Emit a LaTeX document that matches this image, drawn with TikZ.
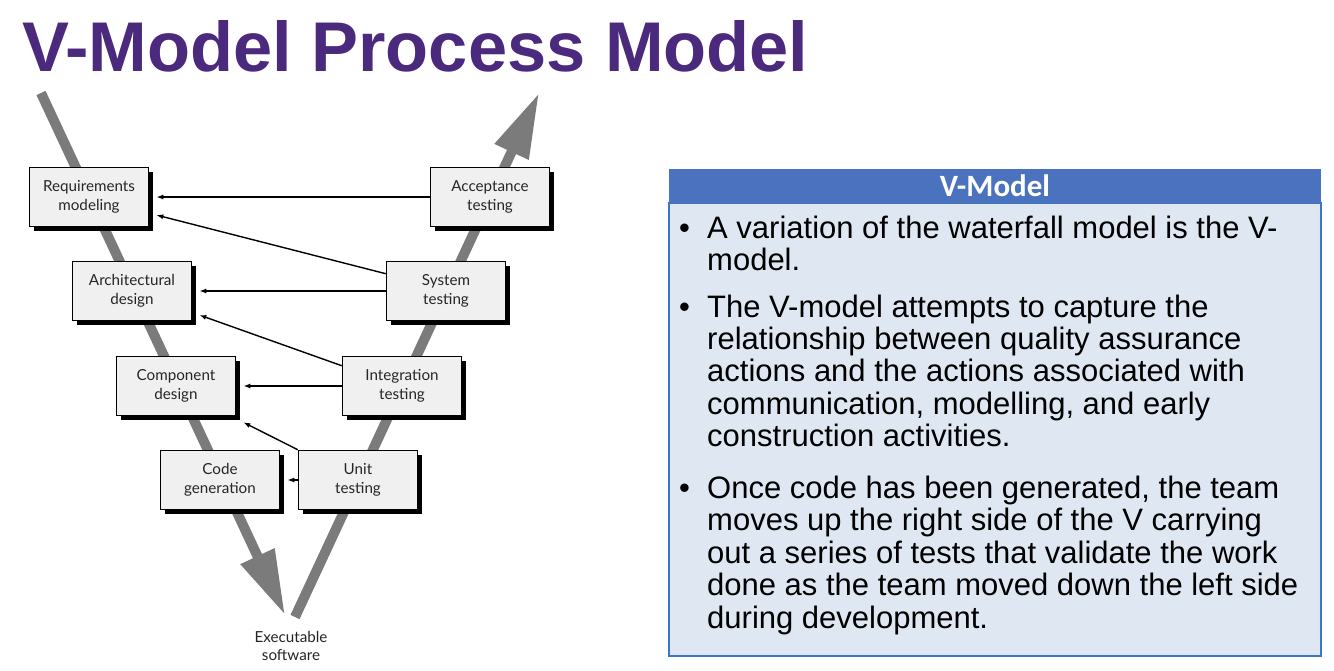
\documentclass[tikz,border=0pt]{standalone}
\usepackage{fontspec}
\setmainfont{Liberation Sans}
\newfontfamily\boxfont{Lato}
\newfontfamily\hdrfont{Carlito}
\usetikzlibrary{arrows.meta,shadows}
\definecolor{titlepurple}{HTML}{4B2A7E}
\definecolor{barGray}{HTML}{7B7B7B}
\definecolor{boxFill}{HTML}{F0F0F0}
\definecolor{hdrBlue}{HTML}{4A72BE}
\definecolor{panelFill}{HTML}{DFE7F2}
\definecolor{panelBorder}{HTML}{3C74C6}
\tikzset{
  vbar/.style={draw=barGray, line width=10pt},
  stagebox/.style={draw=black, line width=1.6pt, fill=boxFill, minimum width=119pt, minimum height=59pt,
    inner sep=0pt, align=center, text=black!85,
    font=\boxfont\fontsize{15.2}{19}\selectfont,
    drop shadow={shadow xshift=4.5pt, shadow yshift=-4.5pt, fill=black, opacity=1}},
  conn/.style={draw=black, line width=1.4pt, -{Latex[length=7pt,width=5pt]}},
  bodyline/.style={anchor=base west, inner sep=0pt, font=\fontsize{31}{33}\selectfont, text=black},
}
\begin{document}
\begin{tikzpicture}[x=1pt,y=-1pt]
\useasboundingbox[fill=white] (0,0) rectangle (1334,670);
% title
\node[anchor=base west, inner sep=0pt, text=titlepurple, font=\bfseries\fontsize{70.4}{78}\selectfont] (title) at (22,71) {V-Model Process Model};
% V bars
\coordinate (ltop) at (41,93);
\coordinate (ltip) at (285,615);
\coordinate (rbot) at (295,617);
\coordinate (rtip) at (539,93);
\draw[vbar, -{Triangle[length=65pt,width=35pt]}] (ltop) -- (ltip);
\draw[vbar, -{Triangle[length=65pt,width=35pt]}] (rbot) -- (rtip);
% boxes
\node[stagebox] (req)   at (89,197)  {Requirements\\modeling};
\node[stagebox] (acc)   at (490,197) {Acceptance\\testing};
\node[stagebox] (arch)  at (132,291) {Architectural\\design};
\node[stagebox] (sys)   at (446,291) {System\\testing};
\node[stagebox] (comp)  at (176,386) {Component\\design};
\node[stagebox] (integ) at (402,386) {Integration\\testing};
\node[stagebox] (code)  at (220,480) {Code\\generation};
\node[stagebox] (unit)  at (358,480) {Unit\\testing};
\node[align=center, inner sep=0pt, text=black!85, font=\boxfont\fontsize{15.2}{18}\selectfont, anchor=north] (exe) at (291,631) {Executable\\software};
% connectors
\draw[conn] (acc.west) -- ([xshift=7pt]req.east);
\draw[conn] ([yshift=-13pt]sys.north west) -- ([xshift=7pt,yshift=-18pt]req.east);
\draw[conn] (sys.west) -- ([xshift=7pt]arch.east);
\draw[conn] ([yshift=-10pt]integ.north west) -- ([xshift=7pt,yshift=-24pt]arch.east);
\draw[conn] (integ.west) -- ([xshift=7pt]comp.east);
\draw[conn] (unit.north west) -- ([xshift=7pt,yshift=-6pt]comp.south east);
\draw[conn] (unit.west) -- ([xshift=7pt]code.east);
% right panel
\node[draw=panelBorder, line width=2.5pt, fill=panelFill, minimum width=652pt, minimum height=453pt, inner sep=0pt] (panel) at (995,429.5) {};
\node[fill=hdrBlue, minimum width=652pt, minimum height=34pt, inner sep=0pt] (hdr) at (995,186) {};
\node[text=white, inner sep=0pt, font=\hdrfont\bfseries\fontsize{31}{34}\selectfont] (hdrtext) at (hdr.center) {V-Model};
\foreach \i/\y in {1/238,2/317,3/498}
  \node[bodyline] (b\i) at (679,\y) {\textbullet};
\foreach \i/\y/\t in {
  1/238/{A variation of the waterfall model is the V-},
  2/270/{model.},
  3/317/{The V-model attempts to capture the},
  4/349/{relationship between quality assurance},
  5/381/{actions and the actions associated with},
  6/414/{communication, modelling, and early},
  7/446/{construction activities.},
  8/498/{Once code has been generated, the team},
  9/530/{moves up the right side of the V carrying},
  10/563/{out a series of tests that validate the work},
  11/595/{done as the team moved down the left side},
  12/628/{during development.}}
  \node[bodyline] (t\i) at (707,\y) {\t};
\end{tikzpicture}
\end{document}
